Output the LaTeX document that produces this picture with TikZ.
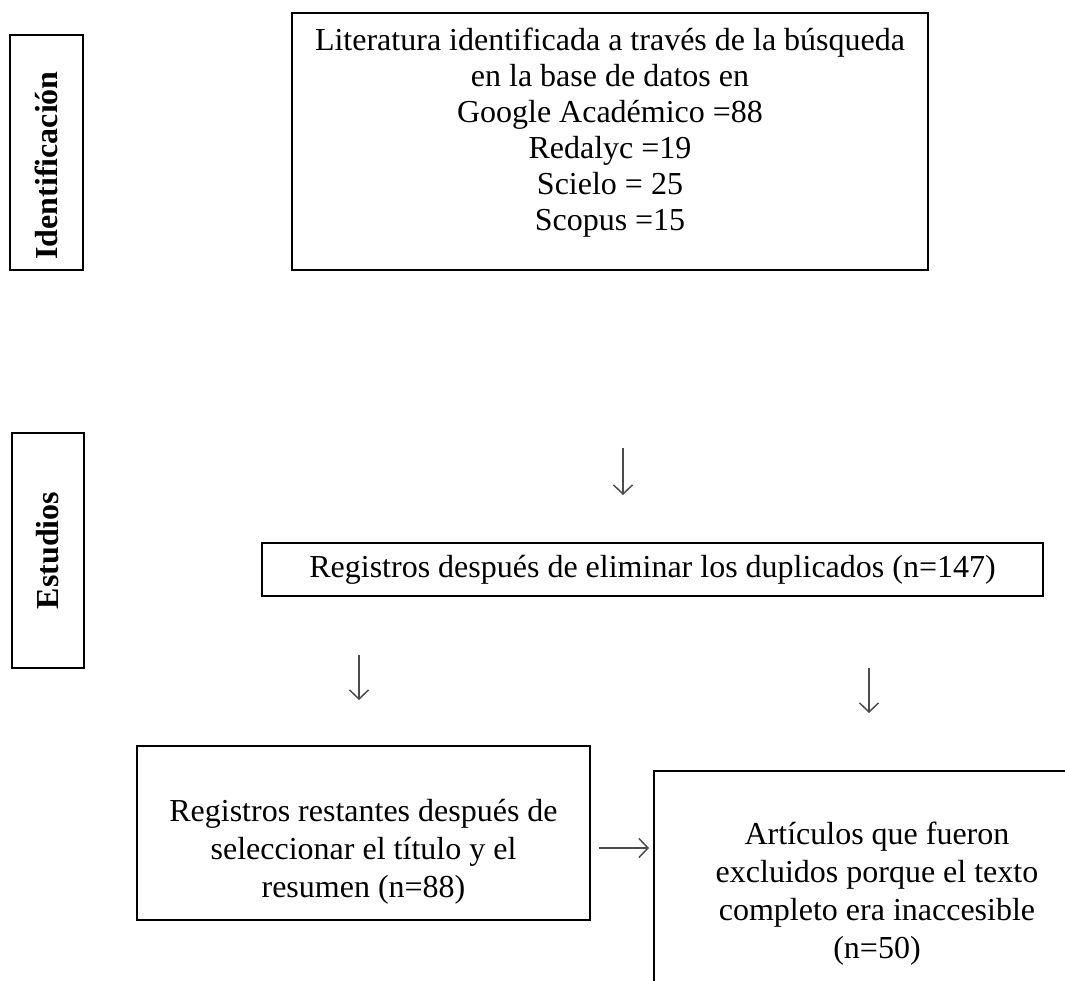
\documentclass[tikz,border=0pt]{standalone}
\usepackage{fontspec}
\setmainfont{Liberation Serif}
\usetikzlibrary{arrows.meta}
\begin{document}
\begin{tikzpicture}[x=1pt,y=-1pt,
  box/.style={draw, line width=1.3pt, inner sep=0pt, align=center,
    font=\fontsize{32}{38}\selectfont},
  side/.style={box, rotate=90, font=\fontsize{32}{37}\selectfont\bfseries},
  arr/.style={-{Straight Barb[length=9pt,width=19pt,line width=1.5pt]}, line width=1.6pt, draw=black!70}]
\useasboundingbox (0,0) rectangle (1065,980);
\clip (0,0) rectangle (1065,980);
% phase labels
\node[side, minimum width=235, minimum height=73] (ident) at (46.5,152.5) {Identificación\hspace{26pt}};
\node[side, minimum width=235, minimum height=72] (estud) at (48,550.5) {Estudios};
% boxes
\node[box, minimum width=636, minimum height=257] (lit) at (610,141.5) {};
\node[align=center, font=\fontsize{32}{36}\selectfont, anchor=north, inner sep=0pt] (littext) at (610,28)
  {Literatura identificada a través de la búsqueda\\ en la base de datos en\\ Google Académico =88\\ Redalyc =19\\ Scielo = 25\\ Scopus =15};
\node[box, minimum width=781, minimum height=53] (dup) at (652.5,569.5) {Registros después de eliminar los duplicados (n=147)};
\node[box, minimum width=453, minimum height=174] (sel) at (363.5,833) {};
\node[align=center, font=\fontsize{32}{38}\selectfont] (seltext) at (363.5,852)
  {Registros restantes después de\\ seleccionar el título y el\\ resumen (n=88)};
\node[box, minimum width=446, minimum height=246] (exc) at (877,894)
  {Artículos que fueron\\ excluidos porque el texto\\ completo era inaccesible\\ (n=50)};
% free-standing arrows
\coordinate (a1s) at (623,448); \coordinate (a1e) at (623,495);
\coordinate (a2s) at (359,655); \coordinate (a2e) at (359,700);
\coordinate (a3s) at (869,668); \coordinate (a3e) at (869,713);
\coordinate (a4e) at (649,848);
\draw[arr] (a1s) -- (a1e);
\draw[arr] (a2s) -- (a2e);
\draw[arr] (a3s) -- (a3e);
\draw[arr] ([xshift=8pt]sel.east |- a4e) -- (a4e);
\end{tikzpicture}
\end{document}
